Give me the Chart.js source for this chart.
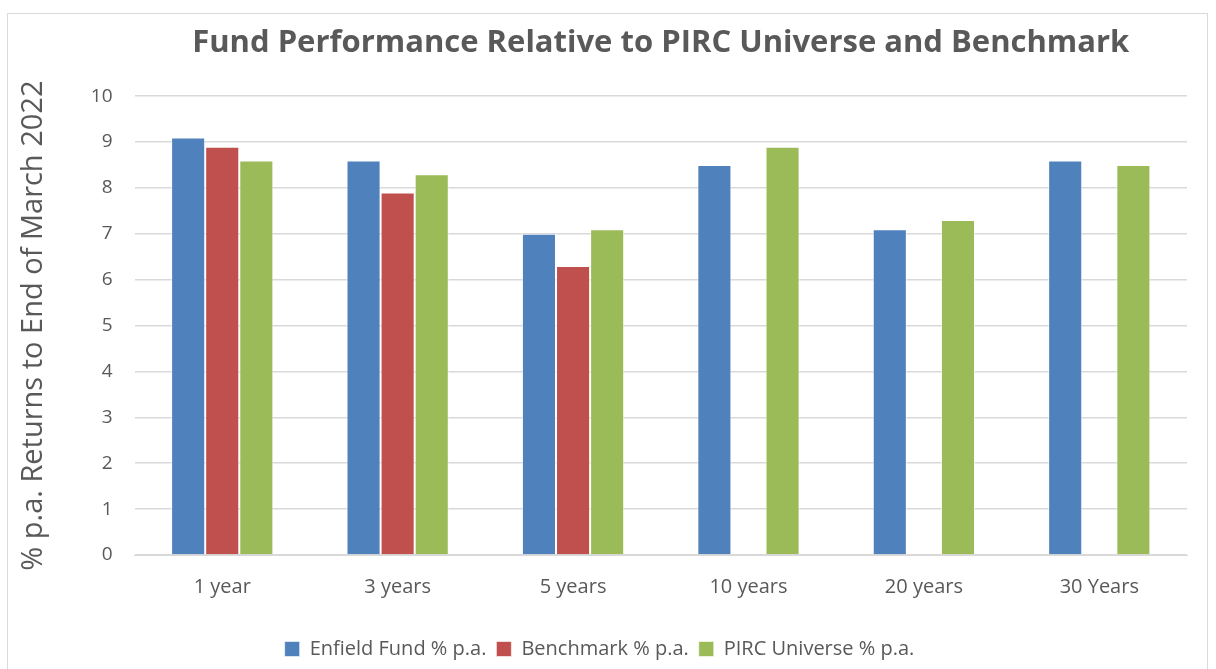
<!DOCTYPE html>
<html>
<head>
<meta charset="utf-8">
<script src="https://cdn.jsdelivr.net/npm/chart.js@4"></script>
<style>
  html, body { margin: 0; padding: 0; background: #fff; }
  #frame { position: absolute; left: 7px; top: 13px; width: 1201px; height: 670px; border: 1px solid #d9d9d9; box-sizing: border-box; }
  #wrap { position: absolute; left: 0; top: 0; width: 1216px; height: 669px; }
</style>
</head>
<body>
<div id="frame"></div>
<div id="wrap"><canvas id="chart"></canvas></div>
<script>
const categories = ["1 year", "3 years", "5 years", "10 years", "20 years", "30 Years"]
const enfieldFund = [9.1, 8.6, 7.0, 8.5, 7.1, 8.6]
const benchmark = [8.9, 7.9, 6.3, null, null, null]
const pircUniverse = [8.6, 8.3, 7.1, 8.9, 7.3, 8.5]
const yTicks = [0, 1, 2, 3, 4, 5, 6, 7, 8, 9, 10]

const font = "Open Sans, Liberation Sans, sans-serif"
const grey = "#595959"

const ctx = document.getElementById("chart").getContext("2d")

new Chart(ctx, {
  type: "bar",
  data: {
    labels: categories,
    datasets: [
      { label: "Enfield Fund % p.a.", data: enfieldFund, backgroundColor: "#4f81bd" },
      { label: "Benchmark % p.a.", data: benchmark, backgroundColor: "#c0504d" },
      { label: "PIRC Universe % p.a.", data: pircUniverse, backgroundColor: "#9bbb59" },
    ].map(d => ({ ...d, borderColor: "rgba(255,255,255,0.6)", borderWidth: 1, categoryPercentage: 0.583, barPercentage: 1 })),
  },
  options: {
    responsive: true,
    maintainAspectRatio: false,
    animation: false,
    layout: { padding: { left: 12, right: 29, top: 20, bottom: 0 } },
    scales: {
      x: {
        grid: { display: false },
        border: { color: "#d9d9d9", width: 1 },
        ticks: { color: grey, font: { family: font, size: 20 }, padding: 12 },
        afterFit: axis => { axis.height = 74 }, // leave room above the legend
      },
      y: {
        min: 0,
        max: 10,
        afterBuildTicks: axis => { axis.ticks = yTicks.map(v => ({ value: v })) },
        grid: { color: "#d9d9d9", lineWidth: 1.5, drawTicks: false },
        border: { display: false },
        ticks: { color: grey, font: { family: font, size: 19 }, padding: 22 },
        title: { display: true, text: "% p.a. Returns to End of March 2022", color: grey, font: { family: font, size: 29 }, padding: { bottom: 18 } },
      },
    },
    plugins: {
      title: {
        display: true,
        fullSize: false,
        text: "Fund Performance Relative to PIRC Universe and Benchmark",
        color: grey,
        font: { family: font, size: 31, weight: "bold" },
        padding: { top: 5, bottom: 34 },
      },
      legend: {
        position: "bottom",
        labels: { color: grey, font: { family: font, size: 20 }, boxWidth: 15, boxHeight: 15, padding: 10 },
      },
      tooltip: { enabled: false },
    },
  },
})
</script>
</body>
</html>
